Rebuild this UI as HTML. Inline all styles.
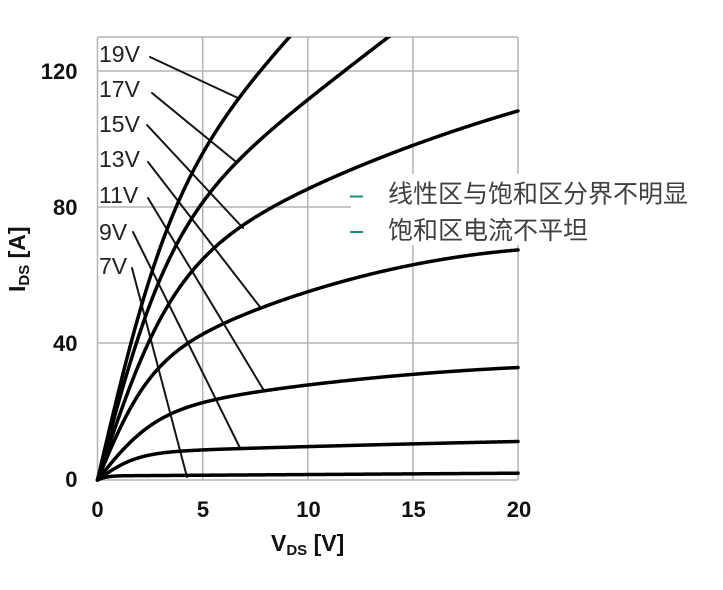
<!DOCTYPE html>
<html>
<head>
<meta charset="utf-8">
<style>
  html,body{margin:0;padding:0;background:#fff;}
  body{width:723px;height:590px;overflow:hidden;}
  svg{display:block;}
  .tick{font-family:"Liberation Sans",Arial,sans-serif;font-weight:bold;font-size:22px;fill:#111;}
  .lab{font-family:"Liberation Sans",Arial,sans-serif;font-size:23px;fill:#222;}
  .ttl{font-family:"Liberation Sans",Arial,sans-serif;font-weight:bold;font-size:23px;fill:#111;}
  .cn{font-family:"Liberation Sans","Noto Sans CJK SC","WenQuanYi Zen Hei",sans-serif;font-size:25px;fill:#404040;}
</style>
</head>
<body>
<svg width="723" height="590" viewBox="0 0 723 590" xmlns="http://www.w3.org/2000/svg">
  <defs>
    <clipPath id="plot"><rect x="95" y="37" width="426" height="447"/></clipPath>
  </defs>
  <rect x="0" y="0" width="723" height="590" fill="#fff"/>

  <!-- grid -->
  <g stroke="#b4b4b4" stroke-width="1.5" fill="none">
    <line x1="97.5" y1="37" x2="97.5" y2="480"/>
    <line x1="202.7" y1="37" x2="202.7" y2="480"/>
    <line x1="307.8" y1="37" x2="307.8" y2="480"/>
    <line x1="412.9" y1="37" x2="412.9" y2="480"/>
    <line x1="518" y1="37" x2="518" y2="480"/>
    <line x1="97.5" y1="37" x2="518" y2="37"/>
    <line x1="97.5" y1="71" x2="518" y2="71"/>
    <line x1="97.5" y1="207" x2="518" y2="207"/>
    <line x1="97.5" y1="343" x2="518" y2="343"/>
    <line x1="97.5" y1="480" x2="518" y2="480"/>
  </g>

  <!-- leader lines -->
  <g stroke="#151515" stroke-width="2" fill="none" stroke-linecap="round">
    <line x1="150" y1="57" x2="238" y2="98"/>
    <line x1="152" y1="93" x2="235" y2="161"/>
    <line x1="147" y1="125" x2="243" y2="228"/>
    <line x1="148" y1="162" x2="260" y2="307"/>
    <line x1="148" y1="198" x2="263" y2="389"/>
    <line x1="133" y1="232" x2="240" y2="448"/>
    <line x1="132" y1="268" x2="187" y2="477"/>
  </g>

  <!-- curves -->
  <g id="curves" clip-path="url(#plot)" stroke="#000" stroke-width="3.5" fill="none" stroke-linejoin="round" stroke-linecap="round">
    <path id="c19"/>
    <path id="c17"/>
    <path id="c15"/>
    <path id="c13"/>
    <path id="c11"/>
    <path id="c9"/>
    <path id="c7"/>
  </g>

  <!-- curve labels -->
  <text class="lab" x="99" y="62">19V</text>
  <text class="lab" x="99" y="97">17V</text>
  <text class="lab" x="99" y="132">15V</text>
  <text class="lab" x="99" y="167">13V</text>
  <text class="lab" x="99" y="203">11V</text>
  <text class="lab" x="99" y="240">9V</text>
  <text class="lab" x="99" y="274">7V</text>

  <!-- y ticks -->
  <text class="tick" x="77.5" y="79" text-anchor="end">120</text>
  <text class="tick" x="77.5" y="215" text-anchor="end">80</text>
  <text class="tick" x="77.5" y="351" text-anchor="end">40</text>
  <text class="tick" x="77.5" y="487" text-anchor="end">0</text>

  <!-- x ticks -->
  <text class="tick" x="97.5" y="517" text-anchor="middle">0</text>
  <text class="tick" x="203" y="517" text-anchor="middle">5</text>
  <text class="tick" x="308.5" y="517" text-anchor="middle">10</text>
  <text class="tick" x="413.5" y="517" text-anchor="middle">15</text>
  <text class="tick" x="519" y="517" text-anchor="middle">20</text>

  <!-- axis titles -->
  <text class="ttl" x="271" y="551">V<tspan font-size="15" dy="4">DS</tspan><tspan dy="-4"> [V]</tspan></text>
  <text class="ttl" transform="translate(25,292) rotate(-90)">I<tspan font-size="15" dy="4">DS</tspan><tspan dy="-4"> [A]</tspan></text>

  <!-- annotation box -->
  <rect x="351" y="174" width="372" height="71" fill="#fff"/>
  <rect x="350" y="195.5" width="13" height="2" fill="#1a8f80"/>
  <rect x="350" y="231" width="13" height="2" fill="#1a8f80"/>
  <text class="cn" x="388" y="202.5">线性区与饱和区分界不明显</text>
  <text class="cn" x="388" y="239">饱和区电流不平坦</text>
</svg>
<script>
(function(){
  // I(V) = a*tanh(V/c) + b*V - k*V^2
  var P = {
    c19: {a:72,   b:6.45, c:3.6, k:0},
    c17: {a:65,   b:4.7,  c:3.5, k:0},
    c15: {a:54.1, b:3.63, c:3.6, k:0.046},
    c13: {a:28.8, b:3.355,c:2.5, k:0.071},
    c11: {a:18.4, b:1.17, c:2.8, k:0.022},
    c9:  {a:7.9,  b:0.21, c:1.9, k:0.002},
    c7:  {a:1.2,  b:0.04, c:0.5, k:0}
  };
  function tanh(x){var e=Math.exp(2*x);return (e-1)/(e+1);}
  for (var id in P) {
    var p = P[id], d = "";
    for (var i = 0; i <= 400; i++) {
      var V = i * 0.05;
      var I = p.a * tanh(V / p.c) + p.b * V - p.k * V * V;
      var x = 97.5 + V * 21.025, y = 480 - I * 3.408;
      d += (i === 0 ? "M" : " L") + x.toFixed(2) + "," + y.toFixed(2);
      if (y < 20) break;
    }
    var el = document.getElementById(id);
    if (el) el.setAttribute("d", d);
  }
})();
</script>
</body>
</html>
